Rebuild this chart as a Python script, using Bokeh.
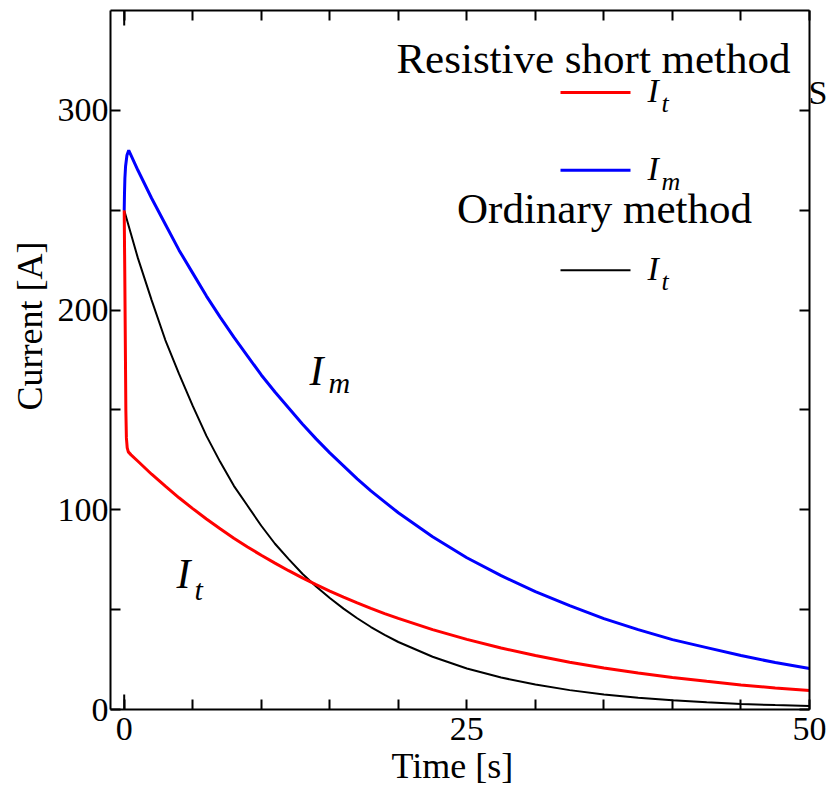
from bokeh.plotting import figure
from bokeh.models import Label, FixedTicker, LinearAxis, Range1d, Title
from bokeh.embed import file_html
from bokeh.resources import INLINE

# ---------------- data ----------------
# Resistive short method, I_m (blue)
time_im = [0, 0.02, 0.05, 0.1, 0.2, 0.33, 0.5, 1, 2, 3, 4, 5, 6, 7, 8, 9, 10,
           11, 12, 13, 14, 15, 16, 17, 18, 19, 20, 22.5, 25, 27.5, 30, 32.5,
           35, 37.5, 40, 42.5, 45, 47.5, 50]
current_im = [250, 258, 266, 272, 277.5, 280, 277.5, 270, 256, 243, 230, 218.5,
              207, 196.5, 186.5, 177, 167.5, 159, 151, 143, 135.5, 128.5, 122,
              115.5, 109.5, 104, 98.5, 86.5, 76, 67, 59, 52, 45.5, 40, 35,
              31, 27, 23.5, 20.5]

# Resistive short method, I_t (red)
time_it = [0, 0.04, 0.08, 0.12, 0.16, 0.22, 0.3, 0.5, 1, 2, 3, 4, 5, 6, 7, 8,
           9, 10, 11, 12, 13, 14, 15, 16, 17, 18, 19, 20, 22.5, 25, 27.5, 30,
           32.5, 35, 37.5, 40, 42.5, 45, 47.5, 50]
current_it = [250, 220, 185, 150, 136, 131, 129, 127.5, 124.3, 117.8, 111.8,
              106, 100.6, 95.4, 90.5, 85.8, 81.4, 77.2, 73.3, 69.5, 65.9, 62.5,
              59.3, 56.3, 53.4, 50.6, 48, 45.6, 40, 35.1, 30.8, 27, 23.7, 20.8,
              18.3, 16, 14.1, 12.3, 10.8, 9.5]

# Ordinary method, I_t (black)
time_ord = [0, 0.5, 1, 2, 3, 4, 5, 6, 7, 8, 9, 10, 11, 12, 13, 14, 15, 16, 17,
            18, 19, 20, 22.5, 25, 27.5, 30, 32.5, 35, 37.5, 40, 42.5, 45, 47.5,
            50]
current_ord = [250, 238, 226, 205, 185, 168, 152, 137, 124, 112, 102, 92,
               83, 75.3, 68, 61.6, 55.8, 50.5, 45.7, 41.3, 37.4, 33.8, 26.4,
               20.5, 16, 12.5, 9.7, 7.5, 5.9, 4.6, 3.6, 2.8, 2.2, 1.7]

x_major = [0, 25, 50]
x_minor = [5, 10, 15, 20, 30, 35, 40, 45]
y_major = [0, 100, 200, 300]
y_minor = [50, 150, 250]

x_title = "Time [s]"
y_title = "Current [A]"
header_rs = "Resistive short method"
header_ord = "Ordinary method"
edge_text = "S"

# ---------------- layout ----------------
FONT = "Liberation Serif"
W, H = 830, 787
FL, FR, FT, FB = 110, 809, 10, 710
X0, X1, Y0, Y1 = -1, 50, 0, 350


def dx(px):
    return X0 + (px - FL) / (FR - FL) * (X1 - X0)


def dy(py):
    return Y1 - (py - FT) / (FB - FT) * (Y1 - Y0)


p = figure(width=W, height=H, x_range=Range1d(X0, X1), y_range=Range1d(Y0, Y1),
           output_backend="svg", toolbar_location=None,
           min_border_left=FL, min_border_right=W - FR,
           min_border_top=FT, min_border_bottom=H - FB)
p.grid.visible = False
p.outline_line_color = None
p.background_fill_color = "white"
p.border_fill_color = "white"


def style(ax, ticks, minors, labels=True, standoff=3):
    ax.ticker = FixedTicker(ticks=ticks, minor_ticks=minors)
    ax.axis_line_width = 2
    ax.axis_line_color = "black"
    ax.major_tick_line_width = 2
    ax.minor_tick_line_width = 2
    ax.major_tick_line_color = "black"
    ax.minor_tick_line_color = "black"
    ax.major_tick_in = 10
    ax.major_tick_out = 0
    ax.minor_tick_in = 10
    ax.minor_tick_out = 0
    ax.major_label_text_font = FONT
    ax.major_label_text_color = "black"
    ax.major_label_text_font_size = "34px" if labels else "0px"
    ax.major_label_standoff = standoff if labels else 0


style(p.xaxis[0], x_major, x_minor, True, 8)
style(p.yaxis[0], y_major, y_minor, True, 2)
top = LinearAxis()
style(top, x_major, x_minor, False)
p.add_layout(top, "above")

# right axis: all its tick marks as minor ticks, one label slot carrying the
# clipped letter at the right edge
s_pos = 309
right = LinearAxis()
style(right, [s_pos], [0] + y_minor + y_major[1:], True, -1)
right.major_tick_in = 0
right.major_label_text_font_size = "34px"
right.major_label_overrides = {s_pos: edge_text}
p.add_layout(right, "right")

# longer tick at x = 0 (bottom and top)
p.segment(x0=[x_major[0], x_major[0]], y0=[Y0, Y1],
          x1=[x_major[0], x_major[0]], y1=[Y0 + 7.5, Y1 - 7.5],
          line_color="black", line_width=2)

# ---------------- curves ----------------
p.line(time_ord, current_ord, line_color="black", line_width=2)
p.line(time_it, current_it, line_color="#ff0000", line_width=3)
p.line(time_im, current_im, line_color="#0000ff", line_width=3)

# ---------------- axis titles ----------------
p.add_layout(Title(text=x_title, align="left", offset=281, text_font=FONT,
                   text_font_size="36px", text_font_style="normal",
                   text_color="black", standoff=3), "below")
p.add_layout(Title(text=y_title, align="left", offset=299, text_font=FONT,
                   text_font_size="36px", text_font_style="normal",
                   text_color="black", standoff=10), "left")

# ---------------- legend (drawn by hand) ----------------
SH = 0.38  # baseline correction in em


def label(px, base_py, text, size, italic=False, align="left"):
    p.add_layout(Label(x=dx(px), y=dy(base_py - SH * size), text=text,
                       text_font=FONT, text_font_size=f"{size}px",
                       text_font_style="italic" if italic else "normal",
                       text_align=align, text_baseline="alphabetic",
                       text_color="black"))


label(593, 74, header_rs, 43, align="center")
label(604, 225, header_ord, 43, align="center")

legend_rows = [(92, "#ff0000", 3, "t"), (170, "#0000ff", 3, "m"),
               (270, "black", 2, "t")]
for row_y, col, lw, sub in legend_rows:
    p.segment(x0=[dx(560)], y0=[dy(row_y)], x1=[dx(630)], y1=[dy(row_y)],
              line_color=col, line_width=lw)
    label(647, row_y + 11, "I", 34, italic=True)
    label(661, row_y + 21, sub, 26, italic=True)

# ---------------- curve annotations ----------------
label(309, 387, "I", 42, italic=True)
label(328, 394, "m", 30, italic=True)
label(176, 590, "I", 42, italic=True)
label(194, 601, "t", 30, italic=True)

open("out.html", "w").write(file_html(p, INLINE))
